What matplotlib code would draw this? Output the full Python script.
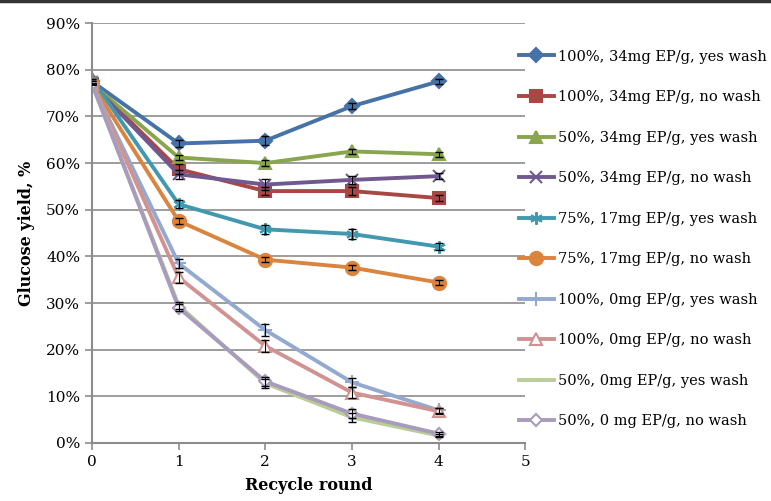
import matplotlib.pyplot as plt
from matplotlib.lines import Line2D

plt.rcParams['font.family'] = ['DejaVu Serif']

rounds = [0, 1, 2, 3, 4]

labels = [
    "100%, 34mg EP/g, yes wash",
    "100%, 34mg EP/g, no wash",
    "50%, 34mg EP/g, yes wash",
    "50%, 34mg EP/g, no wash",
    "75%, 17mg EP/g, yes wash",
    "75%, 17mg EP/g, no wash",
    "100%, 0mg EP/g, yes wash",
    "100%, 0mg EP/g, no wash",
    "50%, 0mg EP/g, yes wash",
    "50%, 0 mg EP/g, no wash",
]

y_100_34_yes = [77.5, 64.2, 64.8, 72.2, 77.5]
y_100_34_no = [77.0, 58.7, 54.0, 54.0, 52.5]
y_50_34_yes = [77.0, 61.2, 60.0, 62.5, 61.9]
y_50_34_no = [77.0, 57.6, 55.4, 56.4, 57.2]
y_75_17_yes = [78.0, 51.2, 45.8, 44.8, 42.1]
y_75_17_no = [77.0, 47.6, 39.3, 37.6, 34.4]
y_100_0_yes = [77.0, 38.5, 24.2, 13.0, 7.0]
y_100_0_no = [77.0, 35.5, 20.8, 10.8, 6.8]
y_50_0_yes = [77.0, 29.5, 12.8, 5.5, 1.6]
y_50_0_no = [77.0, 29.0, 13.2, 6.3, 2.0]

err_100_34_yes = [0, 0.8, 1.0, 0.6, 0.5]
err_100_34_no = [0, 1.0, 0.8, 0.8, 0.6]
err_50_34_yes = [0, 0.6, 0.6, 0.5, 0.5]
err_50_34_no = [0, 1.0, 1.2, 0.8, 0.6]
err_75_17_yes = [0, 0.8, 1.0, 1.0, 0.8]
err_75_17_no = [0, 0.6, 0.6, 0.6, 0.6]
err_100_0_yes = [0, 1.0, 1.2, 1.0, 0.6]
err_100_0_no = [0, 1.2, 1.2, 1.2, 0.6]
err_50_0_yes = [0, 0.8, 1.0, 1.0, 0.4]
err_50_0_no = [0, 0.8, 1.0, 1.0, 0.4]

series = [y_100_34_yes, y_100_34_no, y_50_34_yes, y_50_34_no, y_75_17_yes,
          y_75_17_no, y_100_0_yes, y_100_0_no, y_50_0_yes, y_50_0_no]
errors = [err_100_34_yes, err_100_34_no, err_50_34_yes, err_50_34_no, err_75_17_yes,
          err_75_17_no, err_100_0_yes, err_100_0_no, err_50_0_yes, err_50_0_no]

colors = ['#4572A7', '#AA4643', '#89A54E', '#71588F', '#4198AF',
          '#DB843D', '#93A9CF', '#D19392', '#B9CD96', '#A99BBD']
markers = ['D', 's', '^', 'x', (6, 2, 0), 'o', '+', '^', 'None', 'D']
msizes = [7, 8.5, 9, 9, 9, 9.5, 10, 9, 0, 6.5]
faces = [None, None, None, None, None, None, None, 'white', None, 'white']

fig = plt.figure(figsize=(7.71, 5.01), dpi=100)
ax = fig.add_axes([0.1193, 0.1158, 0.562, 0.838])

for y, e, c, m, ms, fc, lab in zip(series, errors, colors, markers, msizes, faces, labels):
    ax.plot(rounds, y, color=c, lw=2.8, marker=m, markersize=ms,
            markerfacecolor=fc if fc else c, markeredgecolor=c,
            markeredgewidth=1.5, label=lab, zorder=2)
    ax.errorbar(rounds, y, yerr=e, fmt='none', ecolor='black',
                elinewidth=0.8, capsize=3, capthick=1.0, zorder=3)

ax.set_xlim(0, 5)
ax.set_ylim(0, 90)
ax.set_xticks(range(0, 6))
ax.set_yticks(range(0, 100, 10))
ax.set_yticklabels([f"{v}%" for v in range(0, 100, 10)])
ax.yaxis.grid(True, color='#8c8c8c', lw=1.2)
ax.set_axisbelow(True)
for s in ['top', 'right']:
    ax.spines[s].set_visible(False)
for s in ['left', 'bottom']:
    ax.spines[s].set_color('#8c8c8c')
    ax.spines[s].set_linewidth(1.5)
ax.tick_params(axis='both', colors='#8c8c8c', labelcolor='black', labelsize=11,
               length=5, width=1.2)
ax.set_xlabel('Recycle round', fontsize=11.5, fontweight='bold', labelpad=6)
ax.set_ylabel('Glucose yield, %', fontsize=11.5, fontweight='bold', labelpad=8)

fig.legend(loc='upper left', bbox_to_anchor=(0.673, 0.901), frameon=False,
           fontsize=10.5, handlelength=2.4, handletextpad=0.25,
           labelspacing=1.82, borderaxespad=0, borderpad=0)

fig.add_artist(Line2D([0, 1], [0.998, 0.998], color='#333333', lw=2.5,
                      transform=fig.transFigure))

fig.savefig('out.png', dpi=100)
